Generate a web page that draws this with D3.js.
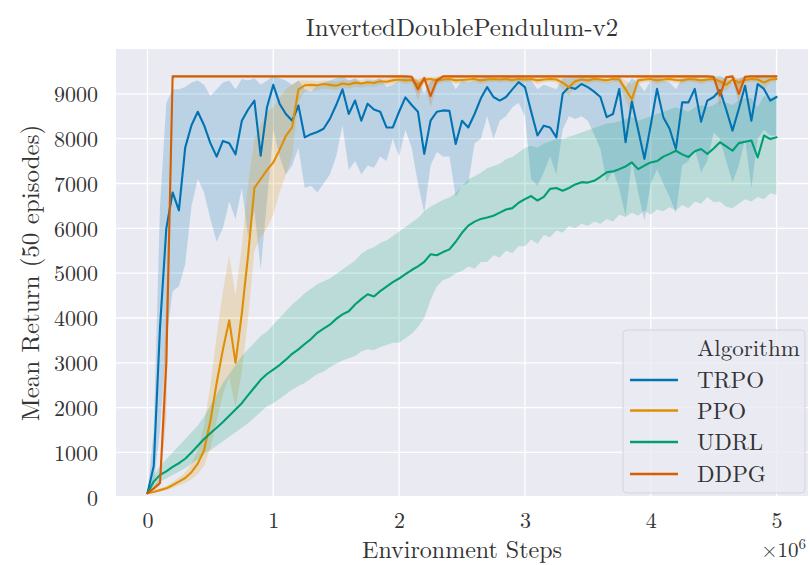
<!DOCTYPE html>
<html><head><meta charset="utf-8">
<script src="https://cdn.jsdelivr.net/npm/d3@7"></script>
<style>
html,body{margin:0;padding:0;background:#fff;}
svg text{font-family:"Latin Modern Roman","CMU Serif","Liberation Serif","Times New Roman",serif;fill:#333;}
</style></head>
<body><svg id="chart" width="810" height="565"></svg>
<script>
// x positions (environment steps, in millions)
const steps = [0,0.05,0.1,0.15,0.2,0.25,0.3,0.35,0.4,0.45,
0.5,0.55,0.6,0.65,0.7,0.75,0.8,0.85,0.9,0.95,
1,1.05,1.1,1.15,1.2,1.25,1.3,1.35,1.4,1.45,
1.5,1.55,1.6,1.65,1.7,1.75,1.8,1.85,1.9,1.95,
2,2.05,2.1,2.15,2.2,2.25,2.3,2.35,2.4,2.45,
2.5,2.55,2.6,2.65,2.7,2.75,2.8,2.85,2.9,2.95,
3,3.05,3.1,3.15,3.2,3.25,3.3,3.35,3.4,3.45,
3.5,3.55,3.6,3.65,3.7,3.75,3.8,3.85,3.9,3.95,
4,4.05,4.1,4.15,4.2,4.25,4.3,4.35,4.4,4.45,
4.5,4.55,4.6,4.65,4.7,4.75,4.8,4.85,4.9,4.95,5];

const algorithms = ["TRPO","PPO","UDRL","DDPG"];
const colors = ["#0173b2","#de8f05","#029e73","#d55e00"];

const trpoMean = [90,700,3800,6000,6800,6400,7800,8300,8600,8300,
7900,7600,7950,7900,7650,8400,8650,8850,7620,8700,
9200,8780,8550,8400,8740,8030,8100,8150,8220,8440,
8750,9100,8550,8850,8400,8780,8650,8600,8250,8250,
8600,8920,8750,8600,7660,8400,8600,8630,8620,7880,
8400,8250,8550,8900,9150,8930,8850,8930,9100,9260,
9150,8600,8070,8290,8250,8030,9000,9150,9110,9220,
9150,9050,8930,8480,8550,9110,7920,8830,8200,7550,
8300,9110,8480,8220,7770,8810,8810,9110,8380,8850,
8930,9080,8650,8180,8660,9180,8400,9220,9110,8850,
8930];
const trpoHigh = [100,1500,6500,8800,9100,9100,9150,9250,9300,9200,
8950,9100,9250,9300,9100,9330,9300,9350,9200,9300,
9400,9350,9300,9200,9300,9100,9050,9200,9250,9300,
9350,9400,9300,9350,9250,9300,9300,9350,9150,9200,
9300,9400,9350,9300,9000,9300,9350,9350,9350,9100,
9300,9250,9300,9350,9400,9350,9350,9380,9400,9420,
9400,9300,9100,9200,9150,9100,9350,9400,9400,9420,
9400,9380,9350,9250,9300,9400,9150,9350,9250,9050,
9300,9400,9300,9250,9100,9350,9350,9400,9300,9350,
9380,9400,9350,9250,9350,9400,9300,9420,9400,9350,
9380];
const trpoLow = [80,300,1500,3500,4600,4700,5200,6500,7100,6800,
6200,5700,6000,6600,6200,6900,5800,6400,5100,6600,
8200,7600,7200,7400,7800,6900,6950,6800,7000,7200,
7600,8300,7300,7500,7200,7400,7350,7600,7500,8000,
7600,8200,7800,7000,6350,7400,7700,7600,7600,6700,
6950,7000,7900,8000,8500,8000,8400,8500,8700,8800,
8500,7100,6950,7250,7600,7200,8200,8500,8440,8500,
8400,8100,7770,7030,7300,6880,6280,7500,6800,6170,
7000,7320,7000,6700,6350,7400,7500,7770,7250,7500,
8140,8000,7500,7025,7400,7990,6900,8000,8200,8070,
8070];

const ppoMean = [90,120,160,200,270,350,430,560,750,1050,
1700,2550,3300,3950,3000,4100,5400,6900,7100,7300,
7470,7750,8060,8250,9100,9190,9200,9190,9220,9200,
9180,9230,9210,9250,9230,9260,9240,9280,9270,9300,
9320,9300,9310,9200,9320,9330,9300,9320,9330,9300,
9310,9320,9330,9300,9320,9330,9320,9330,9310,9330,
9320,9330,9300,9320,9330,9320,9250,9150,9280,9320,
9300,9330,9320,9300,9330,9320,9100,8880,9300,9320,
9330,9300,9320,9330,9310,9300,9330,9320,9300,9320,
9330,9280,9200,9320,9250,9310,9330,9320,9250,9320,
9330];
const ppoHigh = [100,150,200,250,340,440,560,750,1050,1600,
2500,3600,4600,5400,4500,5600,7000,8000,8300,8600,
8700,8900,9100,9200,9300,9300,9300,9280,9300,9290,
9270,9310,9300,9330,9310,9340,9320,9350,9340,9370,
9380,9370,9370,9330,9380,9380,9370,9380,9380,9370,
9370,9380,9380,9370,9380,9380,9380,9380,9370,9380,
9380,9380,9370,9380,9380,9380,9350,9320,9360,9380,
9370,9380,9380,9370,9380,9380,9300,9200,9370,9380,
9380,9370,9380,9380,9370,9370,9380,9380,9370,9380,
9380,9360,9330,9380,9350,9370,9380,9380,9350,9380,
9380];
const ppoLow = [80,100,130,160,210,270,320,400,520,700,
1100,1700,2300,2700,2000,2800,4000,5500,5800,6000,
6300,6800,7200,7600,8800,9050,9080,9080,9120,9100,
9080,9140,9110,9160,9140,9170,9150,9200,9190,9220,
9250,9220,9240,9000,9250,9270,9220,9250,9270,9220,
9240,9250,9270,9220,9250,9270,9250,9270,9240,9270,
9250,9270,9220,9250,9270,9250,9100,8950,9180,9250,
9220,9270,9250,9220,9270,9250,8850,8550,9220,9250,
9270,9220,9250,9270,9240,9220,9270,9250,9220,9250,
9270,9180,9050,9250,9100,9240,9270,9250,9100,9250,
9270];

const udrlMean = [90,350,500,580,680,760,860,1000,1150,1300,
1430,1550,1680,1820,1960,2100,2280,2450,2620,2750,
2850,2950,3070,3200,3300,3420,3530,3670,3760,3850,
3980,4080,4150,4300,4420,4530,4480,4600,4700,4800,
4880,4980,5070,5150,5250,5420,5400,5470,5530,5700,
5900,6060,6150,6210,6240,6280,6350,6420,6450,6570,
6650,6720,6620,6700,6880,6900,6840,6900,6980,7030,
7020,7060,7150,7250,7270,7320,7380,7470,7320,7400,
7470,7500,7600,7660,7730,7650,7590,7720,7770,7660,
7780,7920,7830,7730,7900,7930,7960,7580,8070,7990,
8030];
const udrlHigh = [100,500,700,850,1000,1150,1300,1450,1600,1800,
2050,2300,2550,2750,2950,3150,3300,3450,3600,3700,
3850,4000,4150,4300,4420,4550,4650,4750,4820,4880,
4980,5080,5180,5280,5430,5530,5580,5680,5730,5830,
5930,6030,6130,6230,6380,6480,6560,6640,6690,6790,
6940,7090,7160,7240,7340,7390,7440,7540,7590,7690,
7790,7840,7800,7890,7940,7990,7990,8040,8090,8140,
8190,8240,8290,8340,8350,8390,8440,8490,8400,8450,
8500,8550,8600,8650,8700,8650,8600,8700,8750,8700,
8750,8850,8800,8750,8850,8900,8900,8700,8950,8900,
8950];
const udrlLow = [80,250,350,420,500,570,650,750,850,960,
1050,1150,1250,1350,1450,1550,1650,1780,1900,2030,
2100,2200,2300,2400,2480,2550,2650,2750,2800,2900,
2980,3050,3100,3150,3250,3300,3280,3350,3400,3450,
3450,3550,3650,3800,4000,4400,4700,4850,4900,5000,
5050,5150,5100,5250,5250,5400,5350,5500,5450,5600,
5600,5750,5650,5850,5800,5950,5900,6050,6000,6100,
6050,6150,6100,6200,6150,6300,6250,6350,6280,6400,
6300,6420,6380,6470,6400,6520,6450,6600,6550,6700,
6580,6600,6480,6450,6550,6650,6600,6700,6650,6780,
6750];

const ddpgMean = [90,200,320,3000,9390,9390,9390,9390,9390,9390,
9390,9390,9390,9390,9390,9390,9390,9390,9390,9390,
9390,9390,9390,9390,9390,9390,9390,9390,9390,9390,
9390,9390,9390,9390,9390,9390,9390,9390,9390,9390,
9390,9390,9380,9100,9350,8950,9300,9390,9390,9390,
9390,9390,9390,9390,9390,9390,9390,9390,9390,9390,
9390,9390,9390,9390,9390,9390,9390,9390,9390,9390,
9390,9390,9390,9390,9390,9390,9390,9390,9390,9390,
9390,9390,9390,9390,9390,9390,9390,9390,9390,9390,
9380,8960,9370,9390,9000,9380,9390,9390,9390,9390,
9390];
const ddpgHigh = [100,260,420,4500,9420,9420,9420,9420,9420,9420,
9420,9420,9420,9420,9420,9420,9420,9420,9420,9420,
9420,9420,9420,9420,9420,9420,9420,9420,9420,9420,
9420,9420,9420,9420,9420,9420,9420,9420,9420,9420,
9420,9420,9410,9300,9400,9250,9380,9420,9420,9420,
9420,9420,9420,9420,9420,9420,9420,9420,9420,9420,
9420,9420,9420,9420,9420,9420,9420,9420,9420,9420,
9420,9420,9420,9420,9420,9420,9420,9420,9420,9420,
9420,9420,9420,9420,9420,9420,9420,9420,9420,9420,
9410,9250,9400,9420,9300,9410,9420,9420,9420,9420,
9420];
const ddpgLow = [80,150,250,1800,9360,9360,9360,9360,9360,9360,
9360,9360,9360,9360,9360,9360,9360,9360,9360,9360,
9360,9360,9360,9360,9360,9360,9360,9360,9360,9360,
9360,9360,9360,9360,9360,9360,9360,9360,9360,9360,
9360,9360,9340,8850,9280,8700,9200,9360,9360,9360,
9360,9360,9360,9360,9360,9360,9360,9360,9360,9360,
9360,9360,9360,9360,9360,9360,9360,9360,9360,9360,
9360,9360,9360,9360,9360,9360,9360,9360,9360,9360,
9360,9360,9360,9360,9360,9360,9360,9360,9360,9360,
9340,8700,9330,9360,8750,9340,9360,9360,9360,9360,
9360];

const xTicks = [0,1,2,3,4,5];
const yTicks = [0,1000,2000,3000,4000,5000,6000,7000,8000,9000];

const series = [
  {name:"TRPO", mean:trpoMean, lo:trpoLow, hi:trpoHigh},
  {name:"PPO", mean:ppoMean, lo:ppoLow, hi:ppoHigh},
  {name:"UDRL", mean:udrlMean, lo:udrlLow, hi:udrlHigh},
  {name:"DDPG", mean:ddpgMean, lo:ddpgLow, hi:ddpgHigh}
];

const svg = d3.select("#chart");
const L = 116, R = 808, T = 49, B = 496;
const x = d3.scaleLinear().domain([-0.25, 5.25]).range([L, R]);
const y = d3.scaleLinear().domain([0, 10000]).range([497.3, T]);
const color = d3.scaleOrdinal().domain(algorithms).range(colors);

svg.append("rect").attr("x", L).attr("y", T).attr("width", R - L).attr("height", B - T).attr("fill", "#eaeaf2");

// grid
const grid = svg.append("g");
grid.selectAll("line.gx").data(xTicks).join("line")
  .attr("x1", d => x(d)).attr("x2", d => x(d)).attr("y1", T).attr("y2", B)
  .attr("stroke", "#fff").attr("stroke-width", 1.3);
grid.selectAll("line.gy").data(yTicks.filter(v => y(v) <= B && y(v) >= T)).join("line")
  .attr("x1", L).attr("x2", R).attr("y1", d => y(d)).attr("y2", d => y(d))
  .attr("stroke", "#fff").attr("stroke-width", 1.3);

// bands
const area = d3.area().x((d, i) => x(steps[i])).y0(d => y(d[0])).y1(d => y(d[1]));
const bands = svg.append("g");
series.forEach(s => {
  const pts = s.lo.map((v, i) => [v, s.hi[i]]);
  bands.append("path").datum(pts).attr("d", area)
    .attr("fill", color(s.name)).attr("fill-opacity", 0.2).attr("stroke", "none");
});

// lines
const line = d3.line().x((d, i) => x(steps[i])).y(d => y(d));
const lines = svg.append("g");
series.forEach(s => {
  lines.append("path").datum(s.mean).attr("d", line)
    .attr("fill", "none").attr("stroke", color(s.name)).attr("stroke-width", 2.1)
    .attr("stroke-linejoin", "round").attr("stroke-linecap", "round");
});

// axes
const xAxis = d3.axisBottom(x).tickValues(xTicks).tickSize(0).tickPadding(0).tickFormat(d3.format("d"));
const gx = svg.append("g").attr("transform", `translate(0,${B})`).call(xAxis);
gx.select(".domain").remove();
gx.selectAll("text").attr("y", 32).attr("dy", null).style("font-size", "22px").attr("fill", "#333");

const yAxis = d3.axisLeft(y).tickValues(yTicks).tickSize(0).tickPadding(0).tickFormat(d3.format("d"));
const gy = svg.append("g").attr("transform", `translate(98,0)`).call(yAxis);
gy.select(".domain").remove();
gy.selectAll("text").attr("x", 0).attr("dy", "0.35em").style("font-size", "22px").attr("fill", "#333");

// titles
svg.append("text").attr("x", (L + R) / 2).attr("y", 36).attr("text-anchor", "middle")
  .style("font-size", "25px").text("InvertedDoublePendulum-v2");
svg.append("text").attr("x", (L + R) / 2).attr("y", 558).attr("text-anchor", "middle")
  .style("font-size", "24px").text("Environment Steps");
svg.append("text").attr("transform", "translate(39,273) rotate(-90)").attr("text-anchor", "middle")
  .style("font-size", "25px").text("Mean Return (50 episodes)");
const off = svg.append("text").attr("x", 806).attr("y", 557).attr("text-anchor", "end").style("font-size", "21px");
off.append("tspan").text("×10");
off.append("tspan").attr("dy", -8).style("font-size", "15px").text("6");

// legend
const lg = svg.append("g");
lg.append("rect").attr("x", 623).attr("y", 330).attr("width", 182).attr("height", 163).attr("rx", 4)
  .attr("fill", "#eaeaf2").attr("fill-opacity", 0.8).attr("stroke", "#d4d4dc").attr("stroke-width", 1);
lg.append("text").attr("x", 697).attr("y", 348).attr("dy", "0.35em").style("font-size", "23px").text("Algorithm");
const legY = [380, 410.5, 442, 474];
algorithms.forEach((a, i) => {
  lg.append("line").attr("x1", 630).attr("x2", 678).attr("y1", legY[i]).attr("y2", legY[i])
    .attr("stroke", color(a)).attr("stroke-width", 2.6);
  lg.append("text").attr("x", 697).attr("y", legY[i]).attr("dy", "0.35em").style("font-size", "23px").text(a);
});
</script></body></html>
